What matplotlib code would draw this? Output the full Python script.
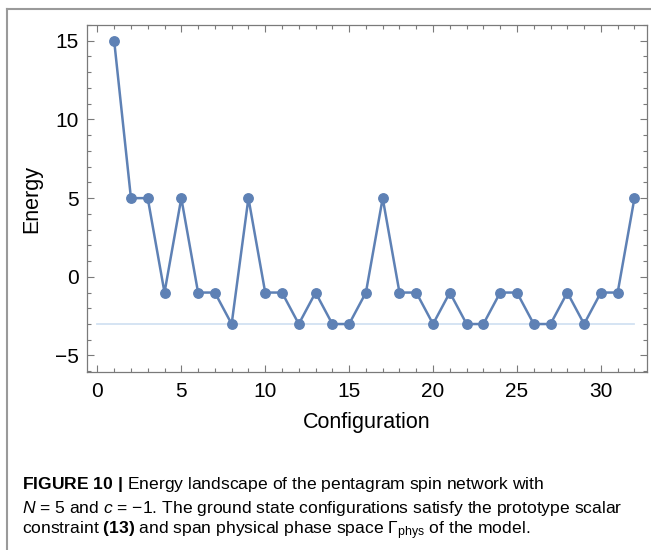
import matplotlib
matplotlib.use("Agg")
import matplotlib.pyplot as plt
from matplotlib.lines import Line2D
from matplotlib.ticker import MultipleLocator

plt.rcParams['font.family'] = ['Liberation Sans', 'DejaVu Sans']
plt.rcParams['mathtext.fontset'] = 'custom'
plt.rcParams['mathtext.rm'] = 'Liberation Sans'
plt.rcParams['mathtext.it'] = 'Liberation Sans:italic'
plt.rcParams['mathtext.bf'] = 'Liberation Sans:bold'

# data
configuration = list(range(1, 33))
energy = [15, 5, 5, -1, 5, -1, -1, -3, 5, -1, -1, -3, -1, -3, -3, -1,
          5, -1, -1, -3, -1, -3, -3, -1, -1, -3, -3, -1, -3, -1, -1, 5]
ground_energy = -3
ground_span = [0, 32]

line_color = '#5E81B5'
frame_color = '#7a7a7a'

fig = plt.figure(figsize=(6.51, 5.5), dpi=100)
ax = fig.add_axes([0.1336, 0.3236, 0.8603, 0.6309])

ax.plot(ground_span, [ground_energy, ground_energy], color='#d2e2f2', linewidth=1.3, zorder=1)
ax.plot(configuration, energy, color=line_color, linewidth=1.8, marker='o',
        markersize=6.8, zorder=3)

ax.set_xlim(-0.62, 32.75)
ax.set_ylim(-6.05, 16.0)

ax.xaxis.set_major_locator(MultipleLocator(5))
ax.xaxis.set_minor_locator(MultipleLocator(1))
ax.yaxis.set_major_locator(MultipleLocator(5))
ax.yaxis.set_minor_locator(MultipleLocator(1))
ax.set_yticks([-5, 0, 5, 10, 15])
ax.set_yticklabels(['\u22125', '0', '5', '10', '15'])

ax.tick_params(which='both', direction='in', top=True, right=True,
               color=frame_color, labelsize=15, width=0.8)
ax.tick_params(which='major', length=5)
ax.tick_params(which='minor', length=2.8)
ax.tick_params(axis='x', which='major', pad=7)
ax.tick_params(axis='y', which='major', pad=6)

for sp in ax.spines.values():
    sp.set_color(frame_color)
    sp.set_linewidth(0.9)

ax.set_xlabel('Configuration', fontsize=15.5, labelpad=8)
ax.set_ylabel('Energy', fontsize=15.5, labelpad=9)

# outer frame of the figure panel
fig.add_artist(Line2D([7 / 651, 1], [1 - 9 / 550, 1 - 9 / 550],
                      transform=fig.transFigure, color='#9a9a9a', linewidth=1.5))
fig.add_artist(Line2D([7 / 651, 7 / 651], [0, 1 - 9 / 550],
                      transform=fig.transFigure, color='#9a9a9a', linewidth=1.5))

# caption
cap_x = 22 / 651
cap_size = 12.6
fig.text(cap_x, 1 - 485 / 550,
         r'$\mathbf{FIGURE\ 10\ |}$ Energy landscape of the pentagram spin network with',
         fontsize=cap_size, va='center')
fig.text(cap_x, 1 - 508 / 550,
         r'$N$ = 5 and $c$ = ' + '\u2212' + '1. The ground state configurations satisfy the prototype scalar',
         fontsize=cap_size, va='center')
fig.text(cap_x, 1 - 531 / 550,
         r'constraint $\mathbf{(13)}$ and span physical phase space $\Gamma_{\mathrm{phys}}$ of the model.',
         fontsize=cap_size, va='center')

fig.savefig('out.png', dpi=100)
